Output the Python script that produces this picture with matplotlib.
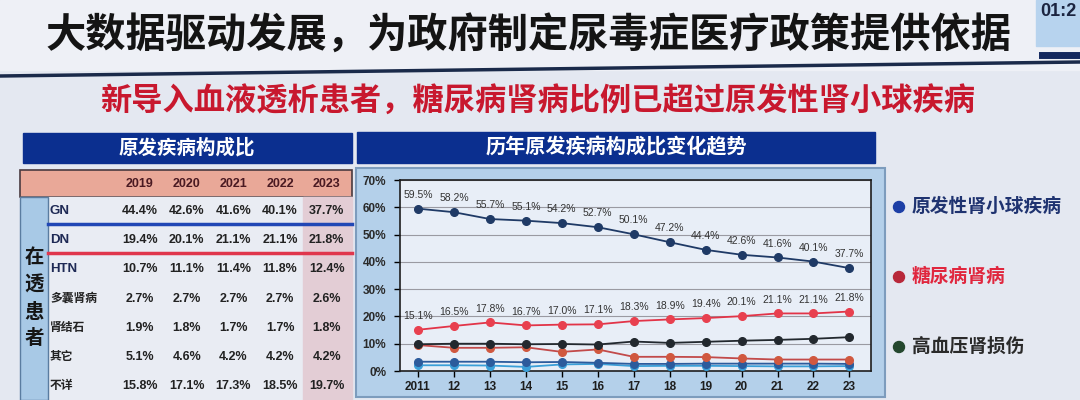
import matplotlib
matplotlib.use('Agg')
import matplotlib.pyplot as plt
from matplotlib.patches import Rectangle, Circle

plt.rcParams['font.family'] = ['Liberation Sans', 'Noto Sans CJK SC', 'DejaVu Sans']

# ---- data ----
years = [2011, 2012, 2013, 2014, 2015, 2016, 2017, 2018, 2019, 2020, 2021, 2022, 2023]
year_labels = ['2011', '12', '13', '14', '15', '16', '17', '18', '19', '20', '21', '22', '23']
gn = [59.5, 58.2, 55.7, 55.1, 54.2, 52.7, 50.1, 47.2, 44.4, 42.6, 41.6, 40.1, 37.7]
dn = [15.1, 16.5, 17.8, 16.7, 17.0, 17.1, 18.3, 18.9, 19.4, 20.1, 21.1, 21.1, 21.8]
htn = [9.8, 10.0, 10.0, 9.8, 9.9, 9.7, 10.8, 10.3, 10.7, 11.1, 11.4, 11.8, 12.4]
other = [9.5, 8.5, 8.5, 8.7, 7.0, 7.9, 5.2, 5.2, 5.1, 4.6, 4.2, 4.2, 4.2]
pkd = [3.4, 3.4, 3.4, 3.2, 3.3, 3.0, 2.6, 2.6, 2.7, 2.7, 2.7, 2.7, 2.6]
stone = [2.1, 2.1, 2.0, 1.5, 2.4, 2.6, 1.8, 1.9, 1.9, 1.8, 1.7, 1.7, 1.8]

table_years = ['2019', '2020', '2021', '2022', '2023']
row_names = ['GN', 'DN', 'HTN', '多囊肾病', '肾结石', '其它', '不详']
table_vals = [
    [44.4, 42.6, 41.6, 40.1, 37.7],
    [19.4, 20.1, 21.1, 21.1, 21.8],
    [10.7, 11.1, 11.4, 11.8, 12.4],
    [2.7, 2.7, 2.7, 2.7, 2.6],
    [1.9, 1.8, 1.7, 1.7, 1.8],
    [5.1, 4.6, 4.2, 4.2, 4.2],
    [15.8, 17.1, 17.3, 18.5, 19.7],
]

legend_names = ['原发性肾小球疾病', '糖尿病肾病', '高血压肾损伤']
legend_dots = ['#1d3fa6', '#b8283a', '#24472e']
legend_text = ['#1f3370', '#e0263e', '#2a2a2a']

title = '大数据驱动发展，为政府制定尿毒症医疗政策提供依据'
subtitle = '新导入血液透析患者，糖尿病肾病比例已超过原发性肾小球疾病'

NAVY = '#0b2f8f'

fig = plt.figure(figsize=(10.8, 4.0), dpi=100, facecolor='#e4e8f1')

# background canvas in pixel units (y down)
bg = fig.add_axes([0, 0, 1, 1])
bg.set_xlim(0, 1080)
bg.set_ylim(400, 0)
bg.axis('off')

# title band
bg.add_patch(Rectangle((0, 0), 1080, 70, color='#eef0f6', zorder=0))
bg.plot([0, 1080], [76, 62], color='#1a2a4a', lw=2.5, zorder=1)
bg.add_patch(Rectangle((1036, 0), 44, 46, color='#b7d3ee', zorder=1))
bg.plot([1042, 1080], [55, 55], color='#13285e', lw=5, zorder=2)
bg.text(529, 36, title, ha='center', va='center', fontsize=29, weight='bold',
        color='#141414', zorder=3)
bg.text(1058, 12, '01:2', ha='center', va='center', fontsize=13, weight='bold',
        color='#1b2440', zorder=4)
bg.text(538, 102, subtitle, ha='center', va='center', fontsize=22.5, weight='bold',
        color='#c8182e')

# ---- left table ----
bg.add_patch(Rectangle((23, 133), 329, 30, color=NAVY, zorder=1))
bg.text(187, 148, '原发疾病构成比', ha='center', va='center', fontsize=14,
        weight='bold', color='white', zorder=2)

bg.add_patch(Rectangle((20, 170), 332, 27, facecolor='#e9a898', edgecolor='#4a3a40',
                       lw=1.2, zorder=1))
bg.add_patch(Rectangle((20, 197), 332, 203, color='#e9ecf3', zorder=1))
bg.add_patch(Rectangle((20, 197), 28, 203, facecolor='#a8c9e6', edgecolor='#5a7ca0',
                       lw=1, zorder=2))
bg.add_patch(Rectangle((303, 197), 49, 203, color='#e3cdd5', zorder=2))

col_x = [140 + i * 46.7 for i in range(len(table_years))]
row_y = [211 + i * 29.2 for i in range(len(row_names))]

for x, yr in zip(col_x, table_years):
    bg.text(x, 184, yr, ha='center', va='center', fontsize=9, weight='bold',
            color='#4a1a22', zorder=3)

for r, (name, vals) in enumerate(zip(row_names, table_vals)):
    bg.text(50, row_y[r], name, ha='left', va='center',
            fontsize=9.5 if r < 3 else 8.5, weight='bold',
            color='#1f2a55' if r < 3 else '#222222', zorder=3)
    for x, v in zip(col_x, vals):
        bg.text(x, row_y[r], f'{v:.1f}%', ha='center', va='center', fontsize=9,
                weight='bold', color='#222222', zorder=3)

bg.plot([48, 352], [224, 224], color='#2147b5', lw=2.5, zorder=3)
bg.plot([48, 352], [253, 253], color='#e0364c', lw=2.5, zorder=3)

for i, ch in enumerate('在透患者'):
    bg.text(34, 258 + i * 27, ch, ha='center', va='center', fontsize=14,
            weight='bold', color='#151515', zorder=3)

# ---- right chart ----
bg.add_patch(Rectangle((357, 132), 518, 31, color=NAVY, zorder=1))
bg.text(616, 147, '历年原发疾病构成比变化趋势', ha='center', va='center', fontsize=14.5,
        weight='bold', color='white', zorder=2)
bg.add_patch(Rectangle((356, 168), 529, 229, facecolor='#b4d0ea', edgecolor='#7d9cbd',
                       lw=1.5, zorder=1))

ax = fig.add_axes([400 / 1080, (400 - 371) / 400, (871 - 400) / 1080, (371 - 180) / 400])
ax.set_facecolor('#e8eef7')
ax.set_xlim(2010.5, 2023.6)
ax.set_ylim(0, 70)

series = [
    (stone, '#3a9fd8', '#3a9fd8'),
    (pkd, '#2c5b9c', '#2c5b9c'),
    (other, '#c24a4a', '#d0583f'),
    (htn, '#22282e', '#22282e'),
    (dn, '#e23448', '#e8404f'),
    (gn, '#1f3a66', '#1f3a66'),
]
for vals, lc, mc in series:
    ax.plot(years, vals, color=lc, lw=1.3, marker='o', markersize=5.5,
            markerfacecolor=mc, markeredgecolor=mc, zorder=3)

for x, v in zip(years, gn):
    ax.annotate(f'{v}%', (x, v), xytext=(0, 10), textcoords='offset points',
                ha='center', va='center', fontsize=7.5, color='#333333')
for x, v in zip(years, dn):
    ax.annotate(f'{v}%', (x, v), xytext=(0, 10), textcoords='offset points',
                ha='center', va='center', fontsize=7.5, color='#333333')

ax.set_yticks(range(0, 71, 10))
ax.set_yticklabels([f'{t}%' for t in range(0, 71, 10)], fontsize=8.5,
                   weight='bold', color='#2a2a2a')
ax.set_xticks(years)
ax.set_xticklabels(year_labels, fontsize=8.5, weight='bold', color='#1e1e1e')
ax.tick_params(axis='y', length=4, width=1, pad=6)
ax.tick_params(axis='x', length=4, width=1, pad=3)
ax.grid(axis='y', color='#9a9aa2', lw=0.8)
ax.set_axisbelow(True)
for s in ax.spines.values():
    s.set_color('#1e1e1e')
    s.set_linewidth(1.2)

# ---- legend ----
for i, (name, dc, tc) in enumerate(zip(legend_names, legend_dots, legend_text)):
    y = 207 + i * 70
    bg.add_patch(Circle((899, y), 5.5, color=dc, zorder=3))
    bg.text(912, y, name, ha='left', va='center', fontsize=13.5, weight='bold',
            color=tc, zorder=3)

fig.savefig('out.png', dpi=100, facecolor=fig.get_facecolor())
plt.close(fig)
